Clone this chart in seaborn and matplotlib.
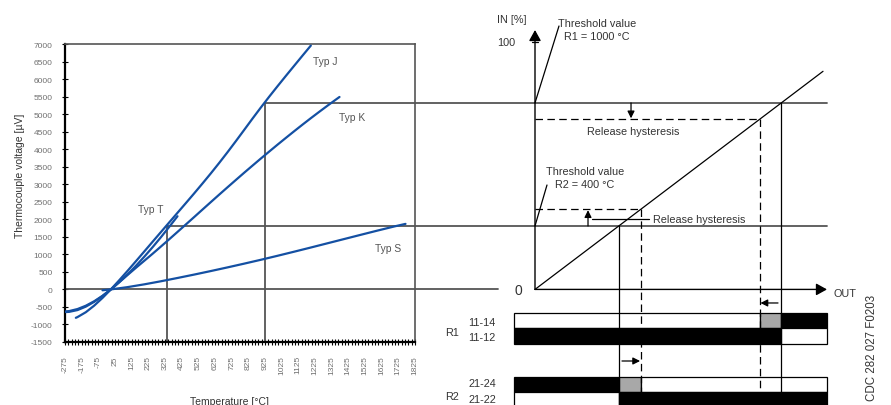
import numpy as np
import pandas as pd
import matplotlib
matplotlib.use("Agg")
import matplotlib.pyplot as plt
import seaborn as sns

# ---------------- data (thermocouple voltage, chart units) ----------------
temp_J = [-210, -200, -150, -100, -50, 0, 50, 100, 150, 200, 250, 300, 350, 400, 450, 500,
          550, 600, 650, 700, 750, 800, 850, 900, 950, 1000, 1050, 1100, 1150, 1200]
volt_J = [-810, -789, -650, -463, -243, 0, 259, 527, 801, 1078, 1356, 1633, 1909, 2185, 2461, 2739,
          3022, 3310, 3607, 3913, 4228, 4549, 4872, 5188, 5496, 5795, 6089, 6379, 6668, 6955]

temp_K = [-270, -250, -200, -150, -100, -50, 0, 50, 100, 150, 200, 250, 300, 350, 400, 450, 500,
          550, 600, 650, 700, 750, 800, 850, 900, 950, 1000, 1050, 1100, 1150, 1200, 1250, 1300,
          1350, 1372]
volt_K = [-646, -640, -589, -491, -355, -189, 0, 202, 410, 614, 814, 1015, 1221, 1429, 1640, 1852,
          2064, 2278, 2491, 2703, 2913, 3121, 3328, 3531, 3733, 3931, 4128, 4321, 4512, 4700, 4884,
          5064, 5241, 5414, 5489]

temp_T = [-270, -250, -200, -150, -100, -50, 0, 50, 100, 150, 200, 250, 300, 350, 400]
volt_T = [-626, -618, -560, -465, -338, -182, 0, 204, 428, 670, 929, 1201, 1486, 1782, 2087]

temp_S = [-50, 0, 100, 200, 300, 400, 500, 600, 700, 800, 900, 1000, 1100, 1200, 1300, 1400,
          1500, 1600, 1700, 1768]
volt_S = [-24, 0, 65, 144, 232, 326, 423, 524, 628, 735, 845, 959, 1076, 1195, 1316, 1437,
          1558, 1678, 1795, 1869]

type_names = ["Typ J", "Typ K", "Typ T", "Typ S"]
x_tick_values = list(range(-275, 1826, 100))
y_tick_values = list(range(-1500, 7001, 500))

# marker temperatures / voltage levels
temp_marks = [335, 925]
level_R2 = 1810      # threshold R2
level_R1 = 5320      # threshold R1
release_R2 = 2290    # release level R2
release_R1 = 4850    # release level R1
in_100 = 7050

# ---------------- style ----------------
sns.set_theme(style="white")
plt.rcParams['font.family'] = ['Liberation Sans', 'DejaVu Sans']

BLUE = "#1450a3"
GRID = "#555555"
TXT = "#333333"
TICKC = "#707070"

W, H = 891, 406
fig = plt.figure(figsize=(W / 100, H / 100), dpi=100)

# ---------------- left chart ----------------
ax = fig.add_axes([65 / W, (H - 343) / H, 350 / W, 298 / H])
df = pd.concat([
    pd.DataFrame({"temp": temp_J, "uv": volt_J, "type": "Typ J"}),
    pd.DataFrame({"temp": temp_K, "uv": volt_K, "type": "Typ K"}),
    pd.DataFrame({"temp": temp_T, "uv": volt_T, "type": "Typ T"}),
    pd.DataFrame({"temp": temp_S, "uv": volt_S, "type": "Typ S"}),
])
sns.lineplot(data=df, x="temp", y="uv", hue="type", palette={t: BLUE for t in type_names},
             estimator=None, sort=False, legend=False, linewidth=1.6, ax=ax, zorder=3)

ax.set_xlim(-275, 1825)
ax.set_ylim(-1500, 7000)
ax.set_xticks(x_tick_values)
ax.set_xticklabels([str(v) for v in x_tick_values], rotation=90, fontsize=6, color=TICKC)
ax.set_xticks(np.arange(-275, 1826, 20), minor=True)
ax.set_yticks(y_tick_values)
ax.set_yticklabels([str(v) for v in y_tick_values], fontsize=6, color=TICKC)
ax.tick_params(axis="both", which="both", bottom=True, left=True, direction="inout",
               color="black", width=0.8)
ax.tick_params(axis="x", which="major", length=5, pad=7)
ax.tick_params(axis="x", which="minor", length=4)
ax.tick_params(axis="y", which="major", length=4, pad=7)
for s in ["left", "bottom"]:
    ax.spines[s].set_color("black")
    ax.spines[s].set_linewidth(1.6)
for s in ["top", "right"]:
    ax.spines[s].set_color(GRID)
    ax.spines[s].set_linewidth(1.2)
ax.set_ylabel("Thermocouple voltage [µV]", fontsize=7.5, color=TXT, va="center")
ax.yaxis.set_label_coords((20 - 65) / 350, (343 - 176) / 298)
ax.set_xlabel("Temperature [°C]", fontsize=7.5, color=TXT, va="center")
ax.xaxis.set_label_coords((230 - 65) / 350, (343 - 402) / 298)

ax.axhline(0, color=GRID, lw=1.3, zorder=2)
ax.plot([temp_marks[0]] * 2, [-1500, level_R2], color=GRID, lw=1.3, zorder=2)
ax.plot([temp_marks[0], 1825], [level_R2] * 2, color=GRID, lw=1.3, zorder=2)
ax.plot([temp_marks[1]] * 2, [-1500, level_R1], color=GRID, lw=1.3, zorder=2)
ax.plot([temp_marks[1], 1825], [level_R1] * 2, color=GRID, lw=1.3, zorder=2)

label_pos = {"Typ J": (1213, 6520), "Typ K": (1369, 4920), "Typ T": (160, 2290), "Typ S": (1585, 1180)}
for t in type_names:
    ax.text(*label_pos[t], t, fontsize=7.4, color="#555555", ha="left", va="center")

# ---------------- right diagram ----------------
ax2 = fig.add_axes([415 / W, 0, 476 / W, 1])
UPX = 21.6
ax2.set_xlim((415 - 535) * UPX, (891 - 535) * UPX)
ax2.set_ylim(7000 - (406 - 45) * 8500 / 298, 7000 + 45 * 8500 / 298)
ax2.axis("off")
x_left = (415 - 535) * UPX
out_end = 6307
bar_start = -454
bottom = -3500

# continuation of reference lines
ax2.plot([x_left, out_end], [level_R1] * 2, color=GRID, lw=1.3)
ax2.plot([x_left, out_end], [level_R2] * 2, color=GRID, lw=1.3)
ax2.plot([x_left, -799], [0, 0], color=GRID, lw=1.3)

# characteristic
ax2.plot([0, 6221], [0, 6221], color="black", lw=0.9)

# axes arrows
big = dict(arrowstyle="-|>,head_length=0.65,head_width=0.36", color="black", lw=1.0,
           mutation_scale=10, shrinkA=0, shrinkB=0)
ax2.annotate("", xy=(0, 7399), xytext=(0, 0), arrowprops=big)
ax2.annotate("", xy=(out_end, 0), xytext=(0, 0), arrowprops=big)
ax2.plot([-70, 70], [in_100] * 2, color="black", lw=0.9)

# hysteresis lines
dash = (0, (6, 3.5))
ax2.plot([0, release_R1], [release_R1] * 2, color="black", lw=0.9, ls=dash)
ax2.plot([release_R1] * 2, [release_R1, bottom], color="black", lw=0.9, ls=dash, zorder=4)
ax2.plot([level_R1] * 2, [level_R1, bottom], color="black", lw=0.9, zorder=4)
ax2.plot([0, release_R2], [release_R2] * 2, color="black", lw=0.9, ls=dash)
ax2.plot([release_R2] * 2, [release_R2, bottom], color="black", lw=0.9, ls=dash, zorder=4)
ax2.plot([level_R2] * 2, [level_R2, bottom], color="black", lw=0.9, zorder=4)

small = dict(arrowstyle="-|>,head_length=0.6,head_width=0.3", color="black", lw=0.9,
             mutation_scale=7, shrinkA=0, shrinkB=0)
ax2.annotate("", xy=(2074, release_R1 + 30), xytext=(2074, level_R1), arrowprops=small)
ax2.annotate("", xy=(1145, release_R2 - 30), xytext=(1145, level_R2), arrowprops=small)
ax2.plot([1231, 2462], [2008, 2008], color="black", lw=0.9)
ax2.annotate("", xy=(release_R1 + 20, -387), xytext=(5249, -387), arrowprops=small)
ax2.annotate("", xy=(release_R2 - 20, -2042), xytext=(1879, -2042), arrowprops=small)

# leader lines
ax2.plot([0, 518], [level_R1, 7513], color="black", lw=0.9)
ax2.plot([0, 259], [level_R2, 2978], color="black", lw=0.9)

# texts
fs = 7.8
ax2.text(-173, 7713, "IN [%]", fontsize=fs, color=TXT, ha="right", va="center")
ax2.text(-432, 7057, "100", fontsize=fs, color=TXT, ha="right", va="center")
ax2.text(-367, -30, "0", fontsize=10, color=TXT, ha="center", va="center")
ax2.text(6437, -100, "OUT", fontsize=fs, color=TXT, ha="left", va="center")
ax2.text(1339, 7414, "Threshold value\nR1 = 1000 °C", fontsize=fs, color=TXT, ha="center",
         va="center", linespacing=1.45)
ax2.text(2117, 4519, "Release hysteresis", fontsize=fs, color=TXT, ha="center", va="center")
ax2.text(1080, 3192, "Threshold value\nR2 = 400 °C", fontsize=fs, color=TXT, ha="center",
         va="center", linespacing=1.3)
ax2.text(2549, 2008, "Release hysteresis", fontsize=fs, color=TXT, ha="left", va="center")
ax2.text(-1793, -1215, "R1", fontsize=fs, color=TXT, ha="center", va="center")
ax2.text(-1145, -930, "11-14", fontsize=fs, color=TXT, ha="center", va="center")
ax2.text(-1145, -1358, "11-12", fontsize=fs, color=TXT, ha="center", va="center")
ax2.text(-1793, -3040, "R2", fontsize=fs, color=TXT, ha="center", va="center")
ax2.text(-1145, -2669, "21-24", fontsize=fs, color=TXT, ha="center", va="center")
ax2.text(-1145, -3126, "21-22", fontsize=fs, color=TXT, ha="center", va="center")
ax2.text(7279, -1642, "CDC 282 027 F0203", fontsize=8.3, color=TXT, ha="center", va="center",
         rotation=90)

# relay state bars (row: (center, height), segments: (start, end, colour))
rows = {
    "11-14": ((-673 - 1101) / 2, 428, [(bar_start, release_R1, "white"), (release_R1, level_R1, "#a8a8a8"),
                                        (level_R1, out_end, "black")]),
    "11-12": ((-1101 - 1551) / 2, 450, [(bar_start, level_R1, "black"), (level_R1, out_end, "white")]),
    "21-24": ((-2499 - 2927) / 2, 428, [(bar_start, level_R2, "black"), (level_R2, release_R2, "#a8a8a8"),
                                        (release_R2, out_end, "white")]),
    "21-22": ((-2927 - 3450) / 2, 523, [(bar_start, level_R2, "white"), (level_R2, out_end, "black")]),
}
for name, (yc, h, segs) in rows.items():
    for s0, s1, c in segs:
        ax2.barh(yc, s1 - s0, left=s0, height=h, color=c, edgecolor="black", linewidth=0.9, zorder=3)

fig.savefig("out.png", dpi=100)
